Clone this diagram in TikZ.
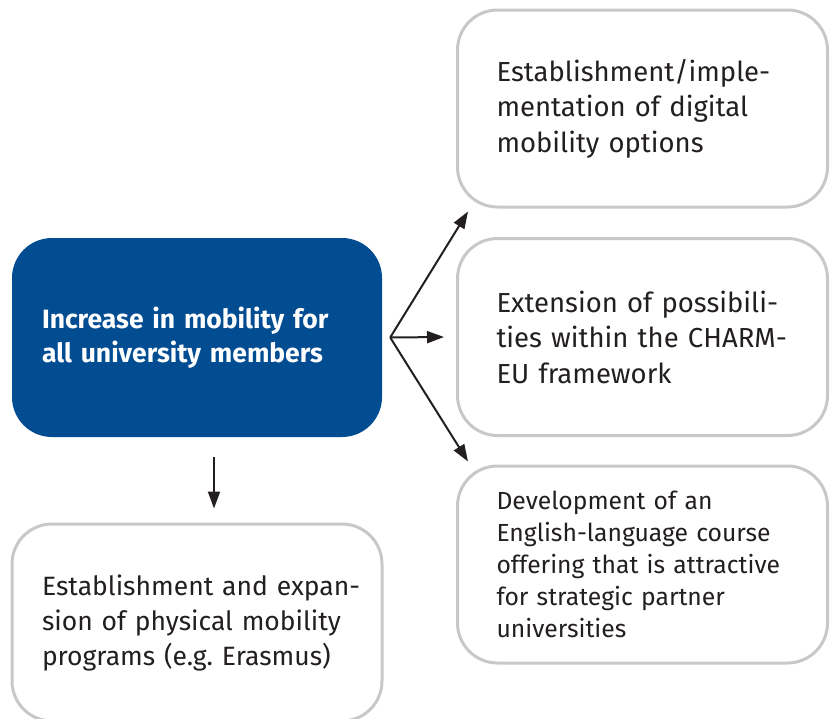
\documentclass[tikz,border=0pt]{standalone}
\usepackage{fontspec}
\setmainfont{Fira Sans}
\usepackage{tikz}
\usetikzlibrary{arrows.meta}
\usetikzlibrary{calc}
\definecolor{mainblue}{HTML}{024C92}
\definecolor{boxgrey}{HTML}{C8C8C8}
\definecolor{inkcolor}{HTML}{231F20}

\begin{document}
\begin{tikzpicture}[x=1pt,y=-1pt,
  goalbox/.style={draw=boxgrey, line width=3pt, rounded corners=40pt, fill=white,
    minimum width=370pt, minimum height=197pt, text width=292pt, inner xsep=39pt,
    align=left, text=inkcolor, font=\fontsize{27.5}{35.5}\selectfont},
  mainbox/.style={fill=mainblue, rounded corners=40pt,
    minimum width=370pt, minimum height=199pt, text width=310pt, inner xsep=30pt,
    align=left, text=white, font=\fontsize{26.5}{34}\selectfont\bfseries},
  conn/.style={inkcolor, line width=2pt, -{Triangle[length=17pt,width=12pt]}}]
\useasboundingbox (0,0) rectangle (832,718);
\clip (0,0) rectangle (832,718);

% main goal
\node[mainbox] (goal) at (197,337.5) {Increase in mobility for\\all university members};

% measures on the right
\node[goalbox] (digital) at (642.5,108.5) {Establishment/imple-\\mentation of digital\\mobility options};
\node[goalbox] (charm) at (642.5,337) {Extension of possibili-\\ties within the CHARM-\\EU framework};
\node[goalbox, font=\fontsize{24.7}{32}\selectfont] (english) at (642.5,564.5)
  {Development of an\\English-language course\\offering that is attractive\\for strategic partner\\universities};

% measure below
\node[goalbox, text width=310pt, inner xsep=30pt, font=\fontsize{26.5}{35}\selectfont] (physical) at (197,622.5)
  {\mbox{Establishment and expan-}\\\mbox{sion of physical mobility}\\\mbox{programs (e.g.\ Erasmus)}};

\coordinate (fork) at ($(goal.east)+(8,0)$);
\draw[conn] (fork) -- ($(digital.south west)+(12,3)$);
\draw[conn] (fork) -- ($(charm.west)+(-12,0)$);
\draw[conn] (fork) -- ($(english.north west)+(12,-3)$);
\draw[conn] ($(goal.south)+(17,20)$) -- ($(physical.north)+(17,-14)$);
\end{tikzpicture}
\end{document}
